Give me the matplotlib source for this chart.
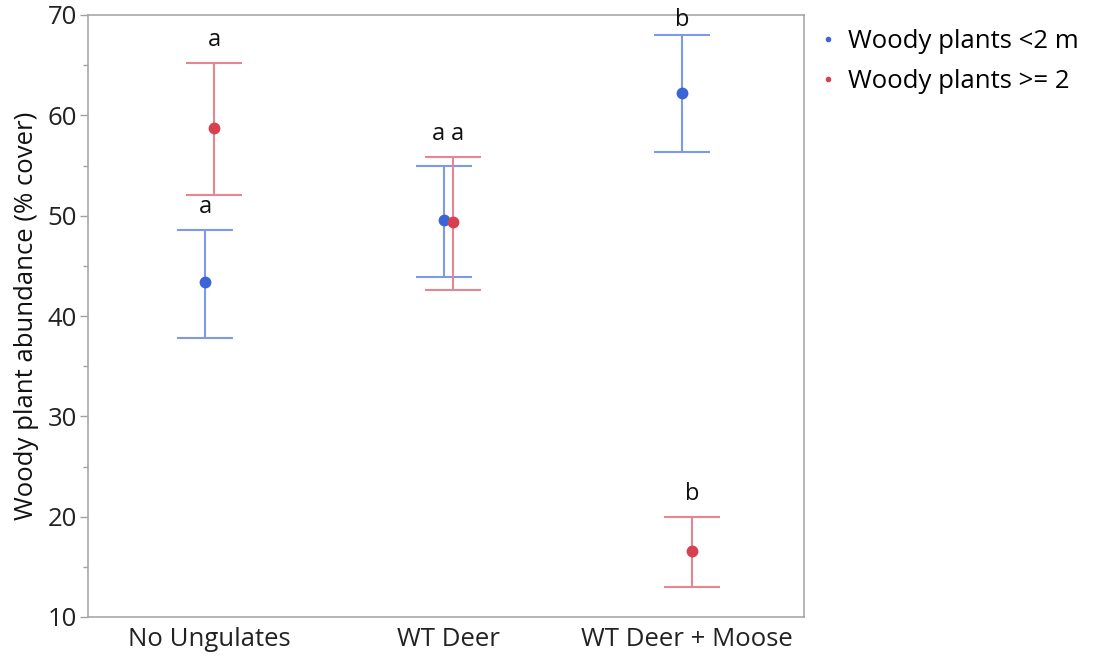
import matplotlib
matplotlib.use("Agg")
import matplotlib.pyplot as plt
import numpy as np

categories = ["No Ungulates", "WT Deer", "WT Deer + Moose"]
series_names = ["Woody plants <2 m", "Woody plants >= 2"]
small_mean = [43.4, 49.6, 62.2]
small_lower = [37.8, 43.9, 56.3]
small_upper = [48.6, 55.0, 68.0]
tall_mean = [58.7, 49.4, 16.6]
tall_lower = [52.1, 42.6, 13.0]
tall_upper = [65.2, 55.8, 20.0]
small_letters = ["a", "a", "b"]
tall_letters = ["a", "a", "b"]

plt.rcParams['font.family'] = ['Open Sans', 'DejaVu Sans']

fig = plt.figure(figsize=(10.98, 6.57), dpi=100)
ax = fig.add_axes([88/1098, 1-617/657, (804-88)/1098, (617-15)/657])

blue_pt = "#3b64d8"
blue_ln = "#7c9ae6"
red_pt = "#d6404f"
red_ln = "#e58692"

YMIN, YMAX = 10, 70
x = np.arange(len(categories))
off = 0.02

# letter anchors: shared height where the two intervals overlap
s_lo, s_hi = np.array(small_lower), np.array(small_upper)
t_lo, t_hi = np.array(tall_lower), np.array(tall_upper)
overlap = (s_lo < t_hi) & (t_lo < s_hi)
shared = np.maximum(s_hi, t_hi)
s_anchor = np.where(overlap, shared, s_hi)
t_anchor = np.where(overlap, shared, t_hi)

series = [
    (small_mean, small_lower, small_upper, small_letters, s_anchor, blue_pt, blue_ln, -off, -0.04),
    (tall_mean, tall_lower, tall_upper, tall_letters, t_anchor, red_pt, red_ln, off, 0.04),
]
for mean, lo, hi, letters, anc, cp, cl, dx, ldx in series:
    mean = np.array(mean); lo = np.array(lo); hi = np.array(hi)
    xs = x + dx
    ax.errorbar(xs, mean, yerr=[mean - lo, hi - mean], fmt='none',
                ecolor=cl, elinewidth=1.5, capsize=20, capthick=1.5, zorder=2)
    ax.plot(xs, mean, 'o', color=cp, markersize=7.5, zorder=3)
    for i, (xi, h, L) in enumerate(zip(xs, anc, letters)):
        lx = x[i] + (ldx if overlap[i] else dx)
        dy = 8 if (YMAX - h) > 4 else 2
        ax.annotate(L, (lx, h), xytext=(0, dy), textcoords='offset points',
                    ha='center', va='bottom', fontsize=17, color='#111111',
                    annotation_clip=False)

ax.set_xlim(-0.51, 2.49)
ax.set_ylim(YMIN, YMAX)
ax.set_xticks(x)
ax.set_xticklabels(categories, fontsize=18.5, color='#222222')
ax.tick_params(axis='x', length=0, pad=7)
ax.set_yticks(np.arange(10, 71, 10))
ax.set_yticks(np.arange(15, 70, 10), minor=True)
ax.tick_params(axis='y', which='major', length=6, width=1, color='#a0a0a0', labelsize=18.5, labelcolor='#222222', pad=2)
ax.tick_params(axis='y', which='minor', length=3.5, width=1, color='#a0a0a0')
for s in ax.spines.values():
    s.set_color('#a8a8a8')
    s.set_linewidth(1.2)
ax.set_ylabel("Woody plant abundance (% cover)", fontsize=18.5, color='#111111', labelpad=6)

h1 = ax.plot([], [], 'o', color=blue_pt, markersize=3)[0]
h2 = ax.plot([], [], 'o', color=red_pt, markersize=3)[0]
fig.legend([h1, h2], series_names, loc='upper left', bbox_to_anchor=(820/1098, 1-29/657),
           frameon=False, fontsize=18.5, handlelength=0.6, handletextpad=0.5, labelspacing=0.6,
           borderaxespad=0, borderpad=0)

fig.savefig("out.png", dpi=100)
